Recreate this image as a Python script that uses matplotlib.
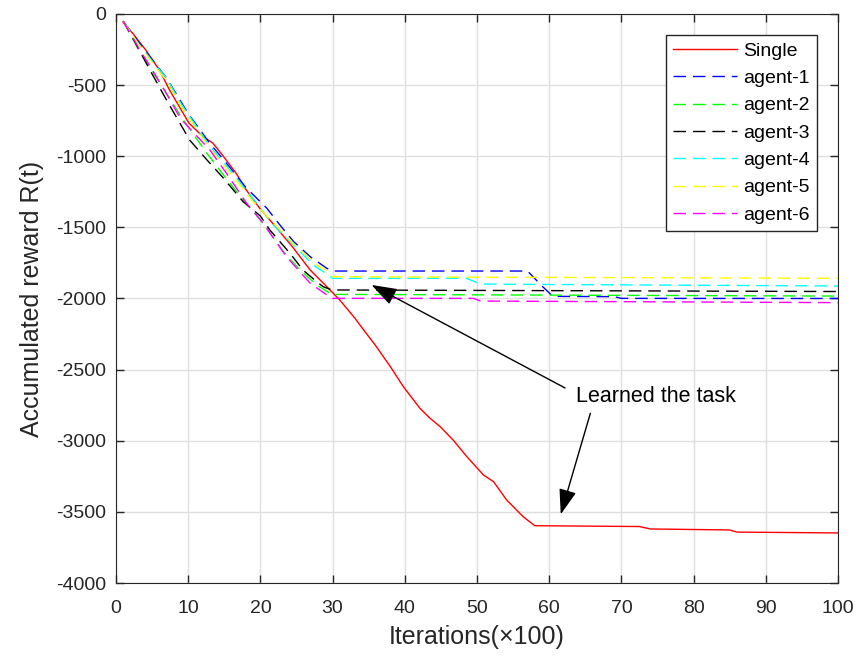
#!/usr/bin/env python3
import matplotlib
matplotlib.use("Agg")
import matplotlib.pyplot as plt

# accumulated reward
x_single = [1, 2.3, 4.1, 6, 7.4, 10.1, 12, 13.4, 14.7, 16.6, 18, 19.9, 22.3, 24.6, 26.9, 29.2,
            31, 33.1, 34.3, 35.9, 38, 39.8, 42.1, 43.5, 44.9, 46.7, 48.6, 50.9, 52.3, 54.1,
            56.4, 58, 72.5, 74, 85, 86, 100]
y_single = [-60, -135, -252, -393, -533, -767, -860, -907, -989, -1117, -1234, -1366, -1507,
            -1647, -1800, -1917, -2011, -2139, -2221, -2327, -2479, -2620, -2772, -2842, -2901,
            -2995, -3112, -3241, -3288, -3416, -3534, -3597, -3603, -3620, -3627, -3642, -3648]

x_a1 = [1, 3, 5, 7, 10, 13, 15, 18, 20.9, 22.7, 24.6, 26.9, 29.2, 30, 57, 59, 60.5, 69, 70, 100]
y_a1 = [-50, -190, -320, -450, -700, -910, -1030, -1220, -1366, -1483, -1600, -1706, -1788,
        -1807, -1807, -1912, -1985, -1987, -1999, -2000]

x_a2 = [1, 3, 5, 7, 9, 12.6, 15, 18, 20, 23.2, 25.5, 27.8, 29.9, 100]
y_a2 = [-50, -240, -400, -560, -720, -980, -1140, -1330, -1448, -1671, -1800, -1905, -1971, -1983]

x_a3 = [1, 2.6, 4.7, 7, 10.2, 12.6, 14.9, 17.6, 20, 21.3, 24.1, 25.9, 27.8, 28.7, 29.9, 100]
y_a3 = [-50, -195, -394, -605, -886, -1026, -1155, -1319, -1420, -1518, -1682, -1800, -1882,
        -1917, -1940, -1951]

x_a4 = [1, 3, 5, 7, 9, 13, 16, 19, 21.8, 24.6, 27.3, 29.2, 30, 48.5, 50.5, 54, 100]
y_a4 = [-50, -200, -330, -450, -630, -930, -1110, -1300, -1483, -1624, -1764, -1828, -1858,
        -1858, -1898, -1900, -1912]

x_a5 = [1, 3, 5, 7, 9, 13, 16, 19, 22.3, 25, 27.8, 29.2, 30, 100]
y_a5 = [-50, -205, -340, -470, -650, -945, -1130, -1320, -1495, -1636, -1764, -1805, -1847, -1858]

x_a6 = [1, 3.3, 5, 7, 8.9, 13, 15.3, 18.1, 20.4, 23.6, 26.9, 29.2, 30, 49.5, 50.5, 100]
y_a6 = [-50, -253, -390, -560, -733, -956, -1120, -1331, -1471, -1706, -1893, -1975, -1999,
        -1999, -2018, -2029]

series = [
    ('Single', x_single, y_single, '#ff0000', '-'),
    ('agent-1', x_a1, y_a1, '#0000ff', '--'),
    ('agent-2', x_a2, y_a2, '#00ff00', '--'),
    ('agent-3', x_a3, y_a3, '#000000', '--'),
    ('agent-4', x_a4, y_a4, '#00ffff', '--'),
    ('agent-5', x_a5, y_a5, '#ffff00', '--'),
    ('agent-6', x_a6, y_a6, '#ff00ff', '--'),
]

plt.rcParams['font.family'] = ['Liberation Sans', 'DejaVu Sans']
plt.rcParams['axes.unicode_minus'] = False
fig = plt.figure(figsize=(8.61, 6.62), dpi=100)
ax = fig.add_axes([0.1347, 0.1193, 0.8386, 0.8596])

for name, xs, ys, c, ls in series:
    if ls == '--':
        ax.plot(xs, ys, color=c, lw=1.0, linestyle=(0, (9, 5)), label=name)
    else:
        ax.plot(xs, ys, color=c, lw=1.0, label=name)

ax.set_xlim(0, 100)
ax.set_ylim(-4000, 0)
ax.set_xticks(range(0, 101, 10))
ax.set_yticks(range(-4000, 1, 500))
ax.grid(True, color='#dfdfdf', lw=1)
ax.set_axisbelow(True)
ax.tick_params(direction='in', length=6, top=True, right=True, labelsize=14,
               colors='#262626', width=1)
ax.tick_params(axis='y', pad=7)
ax.tick_params(axis='x', pad=12)
for s in ax.spines.values():
    s.set_color('#262626')
ax.set_xlabel('Iterations(×100)', size=18, color='#262626', labelpad=6)
ax.set_ylabel('Accumulated reward R(t)', size=18, color='#262626', labelpad=9)

leg = ax.legend(loc='upper right', fontsize=14, handlelength=3.3, handletextpad=0.3,
                labelspacing=0.5, borderaxespad=1.1, fancybox=False, framealpha=1,
                borderpad=0.35)
leg.get_frame().set_edgecolor('#262626')
leg.get_frame().set_linewidth(1)

ax.text(63.7, -2690, 'Learned the task', fontsize=15.5, va='center', ha='left')
arrow = dict(arrowstyle='-|>,head_length=1.3,head_width=0.45', color='black', lw=1,
             mutation_scale=12, shrinkA=0, shrinkB=0)
ax.annotate('', xy=(35.4, -1905), xytext=(62.2, -2629), arrowprops=arrow)
ax.annotate('', xy=(61.6, -3517), xytext=(65.7, -2807), arrowprops=arrow)

plt.savefig('out.png', dpi=100)
